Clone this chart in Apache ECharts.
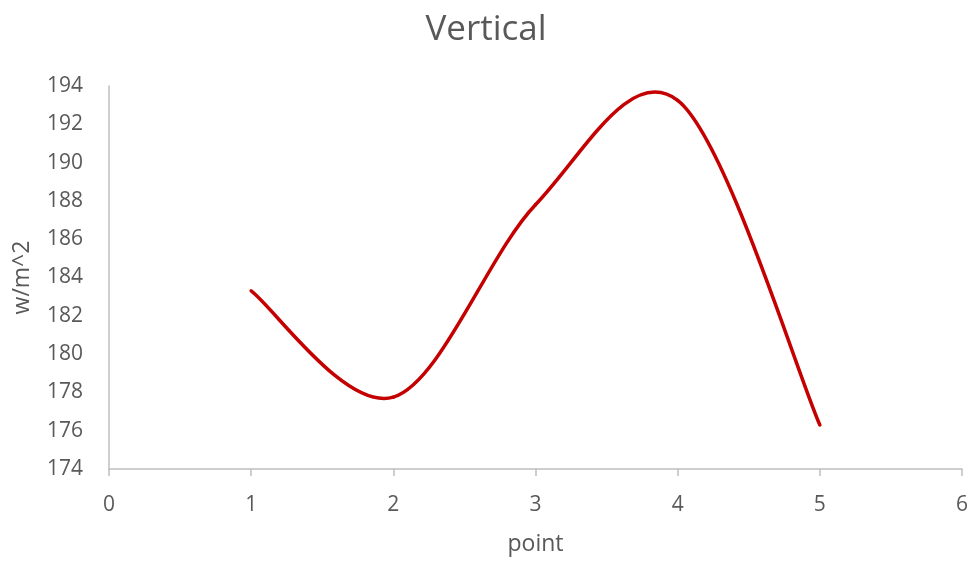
<!DOCTYPE html>
<html>
<head>
<meta charset="utf-8">
<script src="https://cdn.jsdelivr.net/npm/echarts@6/dist/echarts.min.js"></script>
<style>
  html, body { margin: 0; padding: 0; background: #ffffff; }
  #chart { width: 972px; height: 561px; }
</style>
</head>
<body>
<div id="chart"></div>
<script>
// Measurement points along the profile and irradiance at each
const points = [1, 2, 3, 4, 5];
const irradiance = [183.3, 177.75, 187.8, 193.25, 176.3];
const xTicks = [0, 1, 2, 3, 4, 5, 6];
const yTicks = [174, 176, 178, 180, 182, 184, 186, 188, 190, 192, 194];

const textColor = '#595959';
const axisColor = '#bfbfbf';
const lineColor = '#c40000';
const fontFamily = '"Open Sans", "Liberation Sans", sans-serif';

const seriesData = points.map((p, i) => [p, irradiance[i]]);

// Smoothed segment i -> i+1 as a cubic Bezier (Catmull-Rom style control points),
// computed in pixel space from the axis scales.
function renderSegment(params, api) {
  const i = params.dataIndex;
  const n = seriesData.length;
  if (i >= n - 1) return null;
  const P = (k) => api.coord(seriesData[Math.max(0, Math.min(n - 1, k))]);
  const p0 = P(i - 1), p1 = P(i), p2 = P(i + 1), p3 = P(i + 2);
  const c1 = [p1[0] + (p2[0] - p0[0]) / 6, p1[1] + (p2[1] - p0[1]) / 6];
  const c2 = [p2[0] - (p3[0] - p1[0]) / 6, p2[1] - (p3[1] - p1[1]) / 6];
  return {
    type: 'bezierCurve',
    shape: {
      x1: p1[0], y1: p1[1],
      x2: p2[0], y2: p2[1],
      cpx1: c1[0], cpy1: c1[1],
      cpx2: c2[0], cpy2: c2[1]
    },
    style: { stroke: lineColor, fill: null, lineWidth: 3.5, lineCap: 'round' }
  };
}

const chart = echarts.init(document.getElementById('chart'), null, { renderer: 'canvas' });

chart.setOption({
  animation: false,
  backgroundColor: '#ffffff',
  title: {
    text: 'Vertical',
    left: 'center',
    top: 8,
    textStyle: { color: textColor, fontSize: 35, fontWeight: 'normal', fontFamily: fontFamily }
  },
  grid: { left: 109, right: 10, top: 86, bottom: 86 },
  xAxis: {
    type: 'value',
    min: xTicks[0],
    max: xTicks[xTicks.length - 1],
    interval: 1,
    name: 'point',
    nameLocation: 'middle',
    nameGap: 64,
    nameTextStyle: { color: textColor, fontSize: 23, fontFamily: fontFamily },
    axisLine: { show: true, lineStyle: { color: axisColor, width: 1.5 } },
    axisTick: { show: true, length: 7, lineStyle: { color: axisColor, width: 1.5 } },
    axisLabel: { color: textColor, fontSize: 21, margin: 26, fontFamily: fontFamily },
    splitLine: { show: false }
  },
  yAxis: {
    type: 'value',
    min: yTicks[0],
    max: yTicks[yTicks.length - 1],
    interval: 2,
    name: 'w/m^2',
    nameLocation: 'middle',
    nameGap: 75,
    nameTextStyle: { color: textColor, fontSize: 23, fontFamily: fontFamily },
    axisLine: { show: true, lineStyle: { color: axisColor, width: 1.5 } },
    axisTick: { show: false },
    axisLabel: { color: textColor, fontSize: 21, margin: 26, fontFamily: fontFamily },
    splitLine: { show: false }
  },
  series: [{
    type: 'custom',
    coordinateSystem: 'cartesian2d',
    data: seriesData,
    encode: { x: 0, y: 1 },
    renderItem: renderSegment
  }]
});
</script>
</body>
</html>
